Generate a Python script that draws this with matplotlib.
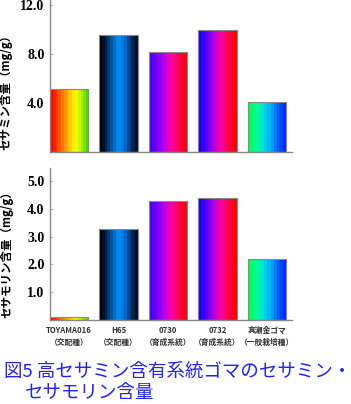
import matplotlib
matplotlib.use("Agg")
import matplotlib.pyplot as plt
import numpy as np
from matplotlib.colors import LinearSegmentedColormap

plt.rcParams['font.family'] = ['Noto Sans CJK JP', 'DejaVu Sans']

# data
varieties = ["TOYAMA016", "H65", "0730", "0732", "真瀬金ゴマ"]
types = ["（交配種）", "（交配種）", "（育成系統）", "（育成系統）", "（一般栽培種）"]
sesamin = [5.12, 9.53, 8.14, 10.0, 4.06]
sesamolin = [0.10, 3.28, 4.29, 4.39, 2.19]
sesamin_ticks = [4.0, 8.0, 12.0]
sesamolin_ticks = [1.0, 2.0, 3.0, 4.0, 5.0]

# banded gradient for each bar, left -> right
bar_colors = [
    ["#ff0000", "#ff4000", "#ff8000", "#ffc000", "#ffff00", "#b0f000", "#40e000"],
    ["#000008", "#002448", "#0060b0", "#0090ff", "#0070d8", "#003470", "#001028"],
    ["#4000ff", "#8000ff", "#c000e8", "#ff00a0", "#ff0050", "#ff0000"],
    ["#1000ff", "#6000ff", "#b000e8", "#ff00a0", "#ff0050", "#ff0000"],
    ["#00ff50", "#00ffa0", "#00e0e0", "#00a8ff", "#0060ff", "#0020ff"],
]

W, H = 351, 404
fig = plt.figure(figsize=(W / 100, H / 100), dpi=100)

ax1 = fig.add_axes([50 / W, 1 - 152 / H, 242 / W, 152 / H])
ax2 = fig.add_axes([50 / W, 1 - 320 / H, 242 / W, 152 / H])

x = np.arange(len(varieties))
bw = 0.77
grad = np.linspace(0, 1, 256).reshape(1, -1)


def draw(ax, vals, ticks, ymax):
    bars = ax.bar(x, vals, width=bw, color="none", edgecolor="#8a8a8a", linewidth=0.8, zorder=3)
    for b, cols in zip(bars, bar_colors):
        cmap = LinearSegmentedColormap.from_list("g", cols, N=len(cols) * 2)
        x0, y0 = b.get_x(), b.get_y()
        im = ax.imshow(grad, extent=[x0, x0 + b.get_width(), y0, y0 + b.get_height()],
                       aspect="auto", cmap=cmap, zorder=2, interpolation="nearest")
        im.set_clip_path(b)
    ax.set_xlim(-bw / 2, 4.505)
    ax.set_ylim(0, ymax)
    ax.set_yticks(ticks)
    ax.set_yticklabels([f"{t:.1f}" for t in ticks], fontfamily="Liberation Serif",
                       fontweight="bold", fontsize=10)
    ax.tick_params(axis="y", direction="in", length=2, color="#bbbbbb", pad=4)
    for s in ("top", "right"):
        ax.spines[s].set_visible(False)
    for s in ("left", "bottom"):
        ax.spines[s].set_color("#888888")
        ax.spines[s].set_linewidth(1.0)


draw(ax1, sesamin, sesamin_ticks, 12.41)
ax1.set_xticks([])

draw(ax2, sesamolin, sesamolin_ticks, 5.47)
ax2.set_xticks(x)
ax2.set_xticklabels([f"{v}\n{t}" for v, t in zip(varieties, types)], fontsize=5.6,
                    color="#333333", linespacing=1.5, fontweight="bold")
ax2.tick_params(axis="x", length=0, pad=4)

fig.text(0.016, 0.78, "セサミン含量（mg/g）", rotation=90, ha="center", va="center",
         fontsize=8.3, fontweight="bold")
fig.text(0.02, 0.376, "セサモリン含量（mg/g）", rotation=90, ha="center", va="center",
         fontsize=8.3, fontweight="bold")

fig.text(4 / W, 1 - 372 / H, "図5 高セサミン含有系統ゴマのセサミン・", ha="left", va="center",
         fontsize=13.3, color="#2222ff")
fig.text(25 / W, 1 - 393 / H, "セサモリン含量", ha="left", va="center",
         fontsize=13.3, color="#2222ff")

fig.savefig("out.png", dpi=100)
